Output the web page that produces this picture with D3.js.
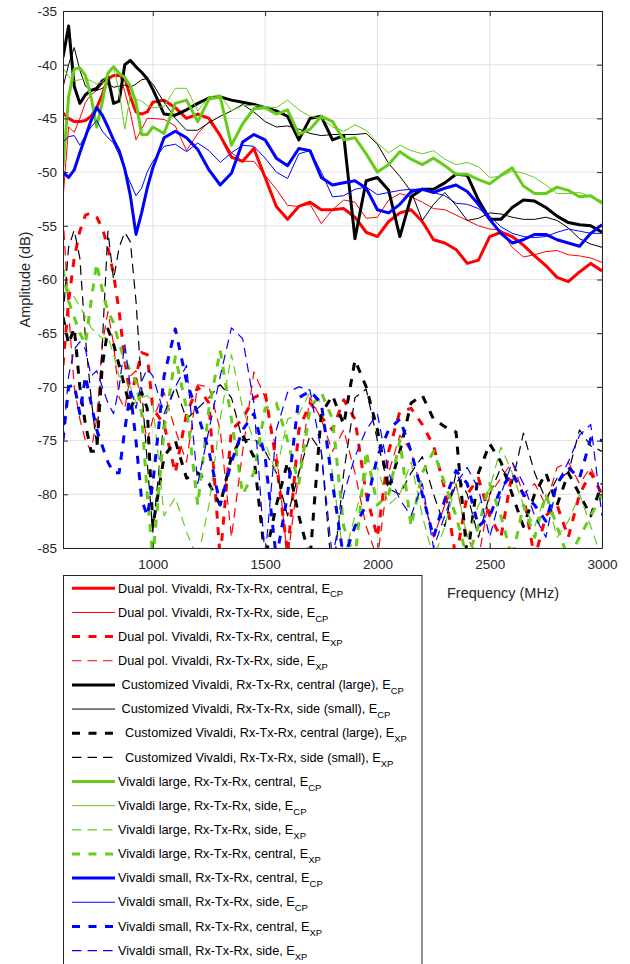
<!DOCTYPE html>
<html>
<head>
<meta charset="utf-8">
<script src="https://cdn.jsdelivr.net/npm/d3@7"></script>
<style>
  body { margin: 0; background: white; }
  text { font-family: "Liberation Sans", Arial, Helvetica, sans-serif; }
</style>
</head>
<body>
<div id="chart"></div>
<script>
// Frequency grid (MHz): 25 MHz steps up to 1 GHz, then 50 MHz steps
const freq = [600,625,650,675,700,725,750,775,800,825,850,875,900,925,950,975,1000,
  1050,1100,1150,1200,1250,1300,1350,1400,1450,1500,
  1550,1600,1650,1700,1750,1800,1850,1900,1950,2000,
  2050,2100,2150,2200,2250,2300,2350,2400,2450,2500,
  2550,2600,2650,2700,2750,2800,2850,2900,2950,3000];

// Dual pol. Vivaldi
const dualCentralCP = [-44.5,-45.0,-45.3,-45.3,-45.2,-44.8,-44.0,-42.8,-41.3,-41.0,-41.0,-41.2,-43.0,-44.4,-44.6,-44.4,-43.5,
  -43.3,-44.0,-45.0,-44.6,-45.0,-46.6,-48.6,-49.0,-47.8,-50.5,
  -53.2,-54.4,-53.2,-52.8,-53.5,-53.5,-53.4,-54.2,-55.6,-56.0,
  -54.6,-53.8,-53.5,-54.6,-56.3,-56.6,-57.2,-58.5,-58.2,-56.0,
  -55.6,-56.0,-56.8,-57.8,-58.7,-59.8,-60.2,-59.3,-58.5,-59.2];
const dualSideCP = [-52.5,-45.8,-46.3,-45.0,-43.5,-42.8,-42.4,-41.8,-41.2,-41.0,-40.8,-42.5,-44.5,-47.0,-46.0,-45.0,-45.0,
  -45.1,-45.7,-48.0,-46.4,-45.3,-46.6,-48.2,-49.0,-49.0,-50.3,
  -51.6,-53.1,-53.2,-53.0,-54.8,-53.5,-52.6,-52.8,-54.3,-54.2,
  -52.6,-52.0,-52.3,-52.8,-53.4,-53.5,-54.0,-54.5,-55.0,-55.3,
  -55.4,-57.0,-57.9,-57.7,-57.4,-57.3,-57.7,-57.8,-58.0,-58.4];
const dualCentralXP = [-68,-62,-58,-55.5,-54,-53.8,-54.2,-55.2,-57,-59.5,-63,-67.5,-71,-69,-66.8,-67,-72,
  -73.5,-78,-72.5,-70,-71.5,-86,-74,-73,-71,-70.5,
  -77,-85.5,-74,-71.5,-72.8,-74,-71.2,-73,-80,-84,
  -76,-72.3,-72,-73.5,-75.5,-79.5,-86,-80,-78.5,-82,
  -84,-78,-80,-86,-82,-81,-84,-80,-78,-80];
const dualSideXP = [-54,-63,-70,-73,-75,-76,-73,-66,-63,-66,-71,-72,-69,-68.5,-72,-75,-73,
  -70.5,-74,-77,-69.8,-70,-74,-84,-76,-68.6,-71,
  -76,-86,-78,-71,-73,-76,-74,-78,-83,-86,
  -78,-74.5,-76,-80,-84,-81,-79,-84,-86,-80,
  -78.5,-77,-80,-79,-81,-77.5,-77,-79,-77.5,-80];

// Customized Vivaldi
const custCentralCP = [-39.3,-36.4,-42.0,-43.6,-42.8,-42.4,-42.2,-41.5,-41.2,-43.6,-43.4,-40.0,-39.6,-40.2,-40.7,-41.3,-42.3,
  -44.6,-44.7,-44.2,-43.6,-43.1,-43.0,-43.3,-43.5,-43.7,-44.0,
  -44.3,-44.8,-47.0,-45.0,-44.8,-47.0,-46.6,-56.2,-50.8,-50.5,
  -51.7,-56.0,-52.3,-51.6,-51.6,-51.0,-50.2,-50.3,-52.6,-54.4,
  -54.4,-53.3,-52.6,-52.7,-53.3,-54.1,-54.7,-54.9,-55.0,-55.6];
const custSideCP = [-42.1,-40.0,-38.4,-40.5,-42.0,-42.3,-42.4,-42.2,-41.8,-42.1,-42.0,-41.9,-42.1,-41.8,-41.4,-41.3,-41.8,
  -43.5,-45.0,-46.1,-46.1,-45.4,-44.8,-44.3,-43.7,-44.4,-45.3,
  -45.8,-45.7,-46.0,-46.4,-46.6,-46.5,-46.5,-46.5,-46.4,-47.4,
  -49.2,-50.4,-51.8,-54.5,-53.0,-51.9,-53.1,-54.5,-54.3,-53.8,
  -53.9,-54.2,-54.4,-54.4,-54.2,-54.5,-55.2,-56.2,-56.7,-57.0];
const custCentralXP = [-63.5,-66,-64.5,-70,-73.5,-76,-76,-68,-64.6,-66,-68,-70,-72,-71,-70.5,-72,-83,
  -76.5,-75,-78.5,-78,-79,-81,-76.5,-74.5,-76.5,-86,
  -81,-77,-82,-86,-72.5,-70.8,-73.5,-67.5,-70,-74,
  -79.5,-76,-71.5,-70.8,-73,-73.7,-74.2,-86,-78,-75.3,
  -77,-80,-83,-80,-78,-81,-78,-80,-82,-79];
const custSideXP = [-63.5,-57,-55.4,-58,-65.5,-71,-75.5,-66,-55.5,-60,-57,-55.6,-56.5,-62,-70,-77,-83.5,
  -73,-70,-73,-72,-71,-69.8,-71,-75,-74.8,-76,
  -78,-82,-78,-74.5,-76,-88,-78,-71,-70.2,-75,
  -79.5,-80,-78,-76.5,-80,-83,-78,-80,-84,-80,
  -77.5,-79,-74.3,-78,-80.5,-78.5,-78,-74,-75.5,-76];

// Vivaldi large
const largeCentralCP = [-49.5,-43.0,-40.4,-40.3,-41.0,-43.0,-45.8,-43.5,-40.8,-40.2,-40.8,-41.2,-42.0,-43.5,-46.5,-46.5,-45.8,
  -46.4,-43.6,-43.3,-45.3,-43.2,-43.0,-47.5,-45.5,-44.1,-44.0,
  -44.6,-44.2,-46.5,-46.0,-44.8,-45.3,-47.0,-46.8,-48.3,-50.0,
  -49.3,-48.1,-48.8,-49.3,-48.7,-49.4,-50.2,-50.2,-50.7,-51.1,
  -50.3,-49.6,-51.3,-52.0,-52.0,-51.4,-51.7,-52.3,-52.2,-52.9];
const largeSideCP = [-40.3,-41.1,-41.5,-41.4,-41.3,-41.5,-41.8,-41.6,-40.9,-40.2,-42.5,-46.0,-42.8,-43.2,-43.4,-43.8,-44.0,
  -43.9,-42.2,-42.2,-44.3,-43.0,-42.8,-44.3,-43.8,-43.8,-43.9,
  -44.0,-43.3,-44.2,-44.8,-45.0,-45.8,-46.2,-45.6,-46.1,-47.3,
  -48.2,-47.5,-48.0,-48.3,-48.0,-48.8,-49.3,-49.1,-49.5,-50.5,
  -50.4,-49.9,-50.1,-50.5,-51.2,-52.0,-52.0,-51.9,-52.3,-52.7];
const largeSideXP = [-60.5,-61,-61.6,-62.5,-63.5,-64.5,-65,-65.5,-65.3,-67,-69,-69.5,-70,-71.5,-71,-70.8,-71.5,
  -82,-80.3,-83.5,-86,-81,-73,-67,-72,-75,-75.2,
  -78,-73,-72.5,-70.5,-71.5,-78,-86,-82,-78,-77.5,
  -81,-80,-77,-82,-86,-83,-79,-84,-81,-79.5,
  -75.6,-78,-81,-83,-80,-84,-82.5,-80,-83,-86];
const largeCentralXP = [-59,-62,-63.5,-65,-66,-62,-58.5,-61,-63,-64,-66,-67.5,-68.5,-69.5,-72.5,-80,-86,
  -74,-67.2,-72,-81,-72,-66.6,-73,-80,-78,-72,
  -71.5,-75,-79,-72,-70.5,-73,-83,-86,-76,-81,
  -80,-75,-83,-78,-76,-79,-82,-86,-83,-79,
  -82,-86,-81,-84,-80,-83,-86,-84,-82,-80];

// Vivaldi small
const smallCentralCP = [-50.0,-50.5,-49.8,-48.2,-46.7,-45.2,-44.0,-44.7,-45.8,-47.0,-48.0,-49.7,-52.2,-55.8,-53.8,-51.5,-49.6,
  -46.8,-46.2,-46.8,-47.9,-49.8,-51.2,-50.1,-47.2,-46.5,-47.0,
  -48.7,-49.4,-47.8,-48.0,-50.5,-51.2,-51.0,-50.8,-51.5,-53.5,
  -53.8,-53.0,-51.8,-51.6,-51.9,-51.5,-51.2,-51.8,-53.0,-54.4,
  -55.7,-56.6,-56.3,-55.8,-55.8,-56.3,-56.6,-56.9,-55.7,-54.9];
const smallSideCP = [-47.2,-46.7,-46.6,-47.5,-46.6,-45.8,-45.2,-46.2,-46.8,-47.3,-48.4,-49.8,-51.0,-52.2,-51.5,-50.0,-49.0,
  -47.6,-47.4,-48.1,-47.3,-48.0,-49.1,-48.2,-47.5,-47.6,-48.7,
  -50.0,-50.6,-48.3,-48.0,-50.0,-52.3,-52.2,-51.6,-51.4,-52.1,
  -51.9,-51.7,-51.6,-51.6,-51.9,-52.2,-52.9,-53.0,-53.4,-54.1,
  -55.1,-55.7,-56.0,-56.1,-56.0,-55.6,-55.3,-55.5,-55.7,-55.7];
const smallCentralXP = [-75,-70,-69.8,-72.5,-69,-71.5,-74,-75.5,-77,-78,-78,-74,-70.5,-75,-80.5,-82,-79,
  -69,-64.6,-69.5,-72.5,-76,-81,-77,-74,-72.5,-76.5,
  -86,-80,-71,-70.4,-71.5,-79,-86,-83,-81,-76.5,
  -74,-73,-76,-80,-84,-80.5,-77.8,-79,-83,-82,
  -79.5,-78,-80,-81,-82.5,-79,-77.5,-78.5,-74.8,-75];
const smallSideXP = [-75,-69,-66.5,-65.8,-66.5,-69,-68.5,-70,-71.5,-72.5,-70,-66,-70,-72,-69.5,-68.3,-69,
  -72.5,-70,-68,-79,-74,-69,-64.5,-65.5,-71.5,-86,
  -74,-70.5,-70,-70.3,-76,-86,-80,-76.5,-74,-72.5,
  -78,-80.5,-82,-79,-85,-82,-79,-77.5,-79.5,-84,
  -80,-77,-79,-82,-84,-79,-77,-74.5,-73.5,-82];

// Axis ticks
const xTicks = [1000, 1500, 2000, 2500, 3000];
const yTicks = [-85, -80, -75, -70, -65, -60, -55, -50, -45, -40, -35];

// Legend labels: main text + subscript (leading spaces kept as in the original)
const legendLabels = [
  ["Dual pol. Vivaldi, Rx-Tx-Rx, central, E", "CP"],
  ["Dual pol. Vivaldi, Rx-Tx-Rx, side, E", "CP"],
  ["Dual pol. Vivaldi, Rx-Tx-Rx, central, E", "XP"],
  ["Dual pol. Vivaldi, Rx-Tx-Rx, side, E", "XP"],
  [" Customized Vivaldi, Rx-Tx-Rx, central (large), E", "CP"],
  [" Customized Vivaldi, Rx-Tx-Rx, side (small), E", "CP"],
  ["  Customized Vivaldi, Rx-Tx-Rx, central (large), E", "XP"],
  ["  Customized Vivaldi, Rx-Tx-Rx, side (small), E", "XP"],
  ["Vivaldi large, Rx-Tx-Rx, central, E", "CP"],
  ["Vivaldi large, Rx-Tx-Rx, side, E", "CP"],
  ["Vivaldi large, Rx-Tx-Rx, side, E", "XP"],
  ["Vivaldi large, Rx-Tx-Rx, central, E", "XP"],
  ["Vivaldi small, Rx-Tx-Rx, central, E", "CP"],
  ["Vivaldi small, Rx-Tx-Rx, side, E", "CP"],
  ["Vivaldi small, Rx-Tx-Rx, central, E", "XP"],
  ["Vivaldi small, Rx-Tx-Rx, side, E", "XP"]
];

// Line styles
const red = "#ff0000", black = "#000000", green = "#66cc1a", blue = "#0000ff";
const thick = { width: 3, dash: null };
const thin = { width: 1, dash: null };
const thickDash = { width: 3, dash: "8,8.5" };
const thinDash = { width: 1.2, dash: "9.5,6" };

// series in legend (= drawing) order
const series = [
  { values: dualCentralCP, color: red, style: thick },
  { values: dualSideCP, color: red, style: thin },
  { values: dualCentralXP, color: red, style: thickDash },
  { values: dualSideXP, color: red, style: thinDash },
  { values: custCentralCP, color: black, style: thick },
  { values: custSideCP, color: black, style: thin },
  { values: custCentralXP, color: black, style: thickDash },
  { values: custSideXP, color: black, style: thinDash },
  { values: largeCentralCP, color: green, style: thick },
  { values: largeSideCP, color: green, style: thin },
  { values: largeSideXP, color: green, style: thinDash },
  { values: largeCentralXP, color: green, style: thickDash },
  { values: smallCentralCP, color: blue, style: thick },
  { values: smallSideCP, color: blue, style: thin },
  { values: smallCentralXP, color: blue, style: thickDash },
  { values: smallSideXP, color: blue, style: thinDash }
].map((s, i) => ({ ...s, label: legendLabels[i] }));

// Dimensions
const width = 630;
const height = 964;
const plot = { left: 63, right: 602, top: 11, bottom: 548 };
const axisColor = "#262626";

const svg = d3.select("#chart")
  .append("svg")
  .attr("width", width)
  .attr("height", height)
  .style("background-color", "white");

const x = d3.scaleLinear().domain([600, 3000]).range([plot.left, plot.right]);
const y = d3.scaleLinear().domain([-85, -35]).range([plot.bottom, plot.top]);

// Grid lines
const grid = svg.append("g").attr("stroke", "#e2e2e2").attr("stroke-width", 1);
grid.selectAll(".gx").data(xTicks).enter().append("line")
  .attr("x1", d => x(d)).attr("x2", d => x(d))
  .attr("y1", plot.top).attr("y2", plot.bottom);
grid.selectAll(".gy").data(yTicks).enter().append("line")
  .attr("x1", plot.left).attr("x2", plot.right)
  .attr("y1", d => y(d)).attr("y2", d => y(d));

// Clip for the curves
svg.append("defs").append("clipPath").attr("id", "clip")
  .append("rect")
  .attr("x", plot.left).attr("y", plot.top)
  .attr("width", plot.right - plot.left).attr("height", plot.bottom - plot.top);

const line = d3.line()
  .x(d => x(d[0]))
  .y(d => y(d[1]));

svg.append("g")
  .attr("clip-path", "url(#clip)")
  .selectAll("path")
  .data(series)
  .enter().append("path")
  .attr("d", d => line(d3.zip(freq, d.values)))
  .attr("fill", "none")
  .attr("stroke", d => d.color)
  .attr("stroke-width", d => d.style.width)
  .attr("stroke-dasharray", d => d.style.dash)
  .attr("stroke-linejoin", "round");

// Axes (ticks inward, box on)
function styleAxis(g) {
  g.select(".domain").attr("stroke", axisColor).attr("stroke-width", 1);
  g.selectAll(".tick line").attr("stroke", axisColor);
  g.selectAll(".tick text")
    .attr("fill", axisColor)
    .style("font-size", "13.5px")
    .style("font-family", "'Liberation Sans', Arial, sans-serif");
}

svg.append("g")
  .attr("transform", `translate(0,${plot.bottom})`)
  .call(d3.axisBottom(x).tickValues(xTicks).tickSizeInner(-5).tickSizeOuter(0).tickPadding(11).tickFormat(d => String(d)))
  .call(styleAxis);

svg.append("g")
  .attr("transform", `translate(${plot.left},0)`)
  .call(d3.axisLeft(y).tickValues(yTicks).tickSizeInner(-5).tickSizeOuter(0).tickPadding(6).tickFormat(d => String(d)))
  .call(styleAxis);

svg.append("g")
  .attr("transform", `translate(0,${plot.top})`)
  .call(d3.axisTop(x).tickValues(xTicks).tickSizeInner(-5).tickSizeOuter(0).tickFormat(""))
  .call(styleAxis);

svg.append("g")
  .attr("transform", `translate(${plot.right},0)`)
  .call(d3.axisRight(y).tickValues(yTicks).tickSizeInner(-5).tickSizeOuter(0).tickFormat(""))
  .call(styleAxis);

// Axis labels
svg.append("text")
  .attr("x", 447)
  .attr("y", 598)
  .attr("fill", axisColor)
  .style("font-size", "14.5px")
  .text("Frequency (MHz)");

svg.append("text")
  .attr("transform", `translate(29.5,${(plot.top + plot.bottom) / 2}) rotate(-90)`)
  .attr("text-anchor", "middle")
  .attr("fill", axisColor)
  .style("font-size", "14.5px")
  .text("Amplitude (dB)");

// Legend
const legend = svg.append("g");
legend.append("rect")
  .attr("x", 63.5).attr("y", 575.5)
  .attr("width", 358.5).attr("height", 400)
  .attr("fill", "white")
  .attr("stroke", axisColor)
  .attr("stroke-width", 1);

const rowY = i => 588.3 + i * 24.15;

const rows = legend.selectAll(".row")
  .data(series)
  .enter().append("g")
  .attr("transform", (d, i) => `translate(0,${rowY(i)})`);

rows.append("line")
  .attr("x1", 72).attr("x2", 115)
  .attr("y1", 0).attr("y2", 0)
  .attr("stroke", d => d.color)
  .attr("stroke-width", d => d.style.width)
  .attr("stroke-dasharray", d => d.style.dash);

const labels = rows.append("text")
  .attr("x", 118)
  .attr("y", 4.2)
  .attr("fill", "#000")
  .style("font-size", "12.7px")
  .style("white-space", "pre");

labels.append("tspan").text(d => d.label[0]);
labels.append("tspan")
  .attr("dy", 5)
  .style("font-size", "9.5px")
  .text(d => d.label[1]);
</script>
</body>
</html>
